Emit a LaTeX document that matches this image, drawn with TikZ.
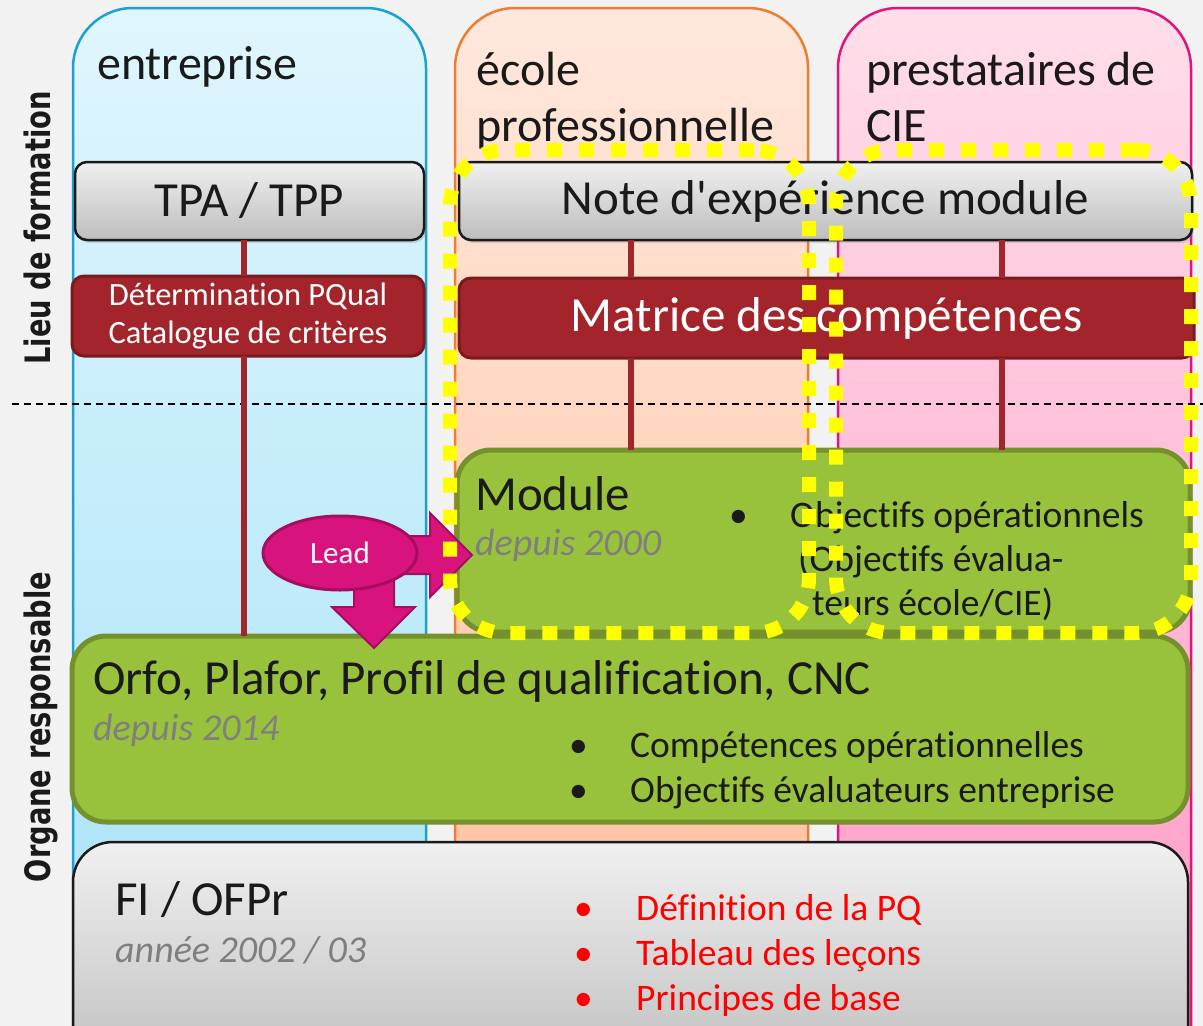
\documentclass[tikz,border=0pt]{standalone}
\usepackage{fontspec}
\setmainfont{Carlito}[Ligatures={NoCommon}]
\newfontfamily\sidefont{DejaVu Sans}
\usetikzlibrary{shapes.geometric,shadows,calc}
\definecolor{bgc}{HTML}{F2F2F2}
\definecolor{bluetop}{HTML}{E0F6FD}
\definecolor{bluebot}{HTML}{A3E1F8}
\definecolor{blueedge}{HTML}{1BA1CF}
\definecolor{orgtop}{HTML}{FFE8DD}
\definecolor{orgbot}{HTML}{FFBC96}
\definecolor{orgedge}{HTML}{ED7D31}
\definecolor{pnktop}{HTML}{FFDEEA}
\definecolor{pnkbot}{HTML}{FF96C2}
\definecolor{pnkedge}{HTML}{E0157A}
\definecolor{graytop}{HTML}{F0F0F0}
\definecolor{graybot}{HTML}{BDBDBD}
\definecolor{redfill}{HTML}{A3242A}
\definecolor{rededge}{HTML}{7A1A1F}
\definecolor{greenfill}{HTML}{99C23C}
\definecolor{greenedge}{HTML}{74912D}
\definecolor{magfill}{HTML}{D8137D}
\definecolor{magedge}{HTML}{A30F5E}
\definecolor{greytext}{HTML}{7F7F7F}
\definecolor{txt}{HTML}{1A1A1A}
\definecolor{connc}{HTML}{A0262B}
\definecolor{ylw}{HTML}{FFFF00}
\begin{document}
\begin{tikzpicture}[x=1pt,y=-1pt,
  column/.style={rectangle, rounded corners=60, line width=2.5, inner sep=0, outer sep=0, anchor=north west, minimum width=353, minimum height=1092},
  coltitle/.style={anchor=base west, inner sep=0, text=txt, font=\fontsize{48}{56}\selectfont},
  graybox/.style={rectangle, rounded corners=12, draw=txt, line width=2.5, top color=graytop, bottom color=graybot, inner sep=0, outer sep=0, text=txt, font=\fontsize{49}{56}\selectfont, drop shadow={shadow xshift=2pt, shadow yshift=-3pt, opacity=0.25}},
  redbox/.style={rectangle, rounded corners=12, draw=rededge, line width=3, fill=redfill, inner sep=0, outer sep=0, text=white, font=\fontsize{49}{56}\selectfont},
  greenbox/.style={rectangle, rounded corners=34, draw=greenedge, line width=5, fill=greenfill, inner sep=0, outer sep=0},
  fibox/.style={rectangle, rounded corners=40, draw=txt, line width=2.5, top color=graytop, bottom color=graybot, inner sep=0, outer sep=0, anchor=north west},
  bigtxt/.style={anchor=base west, inner sep=0, text=txt, font=\fontsize{49}{56}\selectfont},
  datetxt/.style={anchor=base west, inner sep=0, text=greytext, font=\fontsize{38}{44}\selectfont\itshape},
  bultxt/.style={anchor=base west, inner sep=0, text=txt, font=\fontsize{37.5}{44}\selectfont},
  redtxt/.style={anchor=base west, inner sep=0, text=red, font=\fontsize{37.5}{44}\selectfont},
  conn/.style={draw=connc, line width=6},
  sidelabel/.style={anchor=base, rotate=90, inner sep=0, text=txt},
  blockarrow/.style={fill=magfill, draw=magedge, line width=2, line join=miter},
  ydot/.style={rectangle, draw=ylw, line width=14, dash pattern=on 15 off 17, rounded corners=55, inner sep=0, outer sep=0, anchor=north west}
]
\useasboundingbox (0,0) rectangle (1203,1026);
\clip (0,0) rectangle (1203,1026);
\fill[bgc] (0,0) rectangle (1203,1026);

% columns
\node[column, draw=blueedge, top color=bluetop, bottom color=bluebot] (colA) at (73,8) {};
\node[column, draw=orgedge, top color=orgtop, bottom color=orgbot] (colB) at (455,8) {};
\node[column, draw=pnkedge, top color=pnktop, bottom color=pnkbot] (colC) at (838,8) {};

\node[coltitle] (tA) at (97,79) {entreprise};
\node[coltitle] (tB1) at (476,85) {école};
\node[coltitle] (tB2) at (476,141) {professionnelle};
\node[coltitle] (tC1) at (866,85) {prestataires de};
\node[coltitle] (tC2) at (866,141) {CIE};

% side labels
\node[sidelabel] (lieu) at (50,228) {\scalebox{0.78}[1]{\sidefont\bfseries\fontsize{35}{40}\selectfont Lieu de formation}};
\node[sidelabel] (organe) at (50,727) {\scalebox{0.78}[1]{\sidefont\bfseries\fontsize{35}{40}\selectfont Organe responsable}};

% dashed separator
\coordinate (dl) at (12,404);
\coordinate (dr) at (1203,404);
\draw[black, line width=2, dash pattern=on 7 off 5] (dl) -- (dr);

% boxes
\node[graybox, minimum width=349, minimum height=78] (tpa) at (249.5,201) {\raisebox{-3pt}{TPA / TPP}};
\node[graybox, minimum width=733, minimum height=78] (note) at (825.5,201) {\raisebox{-4pt}{Note d\textquotesingle expérience module}};
\node[redbox, minimum width=352, minimum height=80, align=center, font=\fontsize{32.5}{38}\selectfont] (detpq) at (248,316) {Détermination PQual\\Catalogue de critères};
\node[redbox, minimum width=735, minimum height=80] (matrice) at (826.5,318) {Matrice des compétences};
\node[greenbox, minimum width=733, minimum height=182] (module) at (823.5,541) {};
\node[greenbox, minimum width=1116, minimum height=186] (orfo) at (630,729) {};
\node[fibox, minimum width=1115, minimum height=240] (fi) at (73,842) {};

% connectors
\coordinate (xA) at (244,0);
\coordinate (xB) at (631,0);
\coordinate (xC) at (1002,0);
\draw[conn] (tpa.south -| xA) -- (detpq.north -| xA);
\draw[conn] (detpq.south -| xA) -- (orfo.north -| xA);
\draw[conn] (note.south -| xB) -- (matrice.north -| xB);
\draw[conn] (note.south -| xC) -- (matrice.north -| xC);
\draw[conn] (matrice.south -| xB) -- (module.north -| xB);
\draw[conn] (matrice.south -| xC) -- (module.north -| xC);

% module texts
\node[bigtxt] (modt) at (475,510) {Module};
\node[datetxt] (modd) at (475,555) {depuis 2000};
\node[bultxt] (modb1) at (729,527) {•};
\node[bultxt] (modl1) at (790,527) {Objectifs opérationnels};
\node[bultxt] (modl2) at (798,571) {(Objectifs évalua-};
\node[bultxt] (modl3) at (812,615) {teurs école/CIE)};

% orfo texts
\node[bigtxt] (orft) at (93,694) {Orfo, Plafor, Profil de qualification, CNC};
\node[datetxt] (orfd) at (93,740) {depuis 2014};
\node[bultxt] (orfb1) at (569,757) {•};
\node[bultxt] (orfl1) at (630,757) {Compétences opérationnelles};
\node[bultxt] (orfb2) at (569,802) {•};
\node[bultxt] (orfl2) at (630,802) {Objectifs évaluateurs entreprise};

% FI texts
\node[bigtxt] (fit) at (115,915) {FI / OFPr};
\node[datetxt] (fid) at (115,962) {année 2002 / 03};
\node[redtxt] (fib1) at (574,920) {•};
\node[redtxt] (fil1) at (636,920) {Définition de la PQ};
\node[redtxt] (fib2) at (574,965) {•};
\node[redtxt] (fil2) at (636,965) {Tableau des leçons};
\node[redtxt] (fib3) at (574,1010) {•};
\node[redtxt] (fil3) at (636,1010) {Principes de base};

% Lead block arrows
\coordinate (leadc) at (340,553);
\begin{scope}[shift={(leadc)}]
\draw[blockarrow] (60,-17) -- (90,-17) -- (90,-40) -- (132,2) -- (90,44) -- (90,21) -- (60,21) -- cycle;
\draw[blockarrow] (14,20) -- (14,54) -- (-8,54) -- (34,95) -- (75,54) -- (54,54) -- (54,20) -- cycle;
\end{scope}
\node[ellipse, fill=magfill, draw=magedge, line width=3, minimum width=154, minimum height=74, inner sep=0, text=white, font=\fontsize{31}{34}\selectfont] (lead) at (leadc) {Lead};

% yellow highlight frames
\node[ydot, minimum width=359, minimum height=483] (hl1) at (450,150) {};
\node[ydot, minimum width=355, minimum height=483] (hl2) at (836,150) {};
\end{tikzpicture}
\end{document}
